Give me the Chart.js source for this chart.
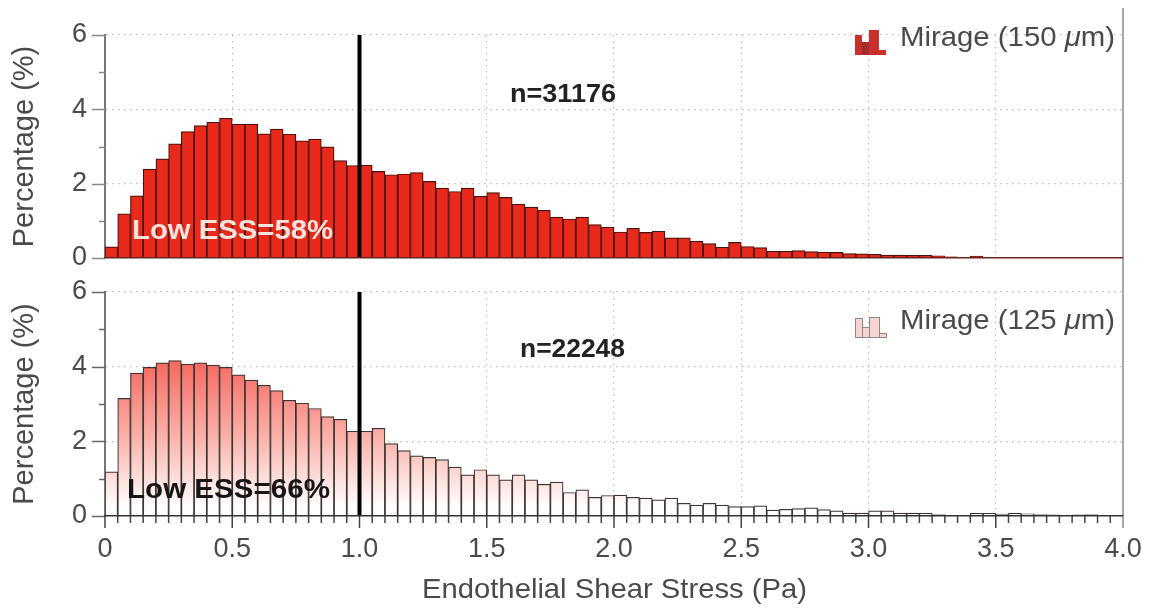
<!DOCTYPE html>
<html><head><meta charset="utf-8">
<script src="https://cdn.jsdelivr.net/npm/chart.js@4"></script>
<style>
html,body{margin:0;padding:0;background:#fff;width:1153px;height:610px;overflow:hidden}
canvas{position:absolute;left:0;top:0;filter:blur(.6px)}
</style></head><body>
<div style="position:absolute;left:0;top:0;width:1153px;height:275px"><canvas id="top"></canvas></div>
<div style="position:absolute;left:0;top:275px;width:1153px;height:335px"><canvas id="bot"></canvas></div>
<script>
const binWidth = 0.05;
const mirage150 = [
 .3,1.19,1.67,2.39,2.67,3.07,3.4,3.56,3.65,3.76,
 3.6,3.6,3.34,3.47,3.33,3.15,3.2,2.99,2.62,2.49,
 2.5,2.33,2.24,2.26,2.3,2.06,1.88,1.79,1.88,1.66,
 1.76,1.63,1.45,1.37,1.28,1.1,1.05,1.1,.9,.83,
 .7,.8,.69,.72,.54,.54,.45,.39,.29,.42,
 .31,.28,.18,.18,.2,.17,.16,.15,.12,.11,
 .1,.08,.08,.07,.07,.06,.03,.02,.05,.02,
 .01,.01,.01,.01,.01,.01,.01,0,.01,0];
const mirage125 = [
 1.18,3.15,3.83,3.98,4.1,4.16,4.07,4.1,4.04,3.98,
 3.78,3.64,3.5,3.36,3.1,3.02,2.88,2.66,2.59,2.27,
 2.27,2.35,1.94,1.75,1.61,1.57,1.51,1.31,1.1,1.24,
 1.1,.97,1.1,.97,.85,.91,.63,.7,.5,.55,
 .56,.5,.48,.43,.48,.34,.29,.34,.29,.25,
 .25,.27,.16,.18,.2,.22,.17,.14,.08,.08,
 .14,.14,.08,.08,.07,.04,.02,.02,.07,.07,
 .05,.08,.06,.04,.03,.02,.03,.04,.02,.01];
const yTickLabels = ['0','2','4','6'];
const xTickLabels = ['0','0.5','1.0','1.5','2.0','2.5','3.0','3.5','4.0'];
const thresholdX = [1, 1];
const thresholdY = [0, 6];
const xTitle = 'Endothelial Shear Stress (Pa)';
const yTitle = 'Percentage (%)';

const FONT = '"Liberation Sans", Arial, sans-serif';
const INK = '#4a4a4a';
const L = 105, R = 30;

function toPoints(v){ return v.map((y,i)=>({x:(i+0.5)*binWidth, y})); }

function pinkGradient(ctx){
  const c = ctx.chart;
  if(!c.chartArea) return '#f88';
  const y = c.scales.y;
  const g = c.ctx.createLinearGradient(0,y.getPixelForValue(4.3),0,y.getPixelForValue(0));
  g.addColorStop(0,'#f5635a'); g.addColorStop(.5,'#fbb0a8'); g.addColorStop(.95,'#ffffff');
  return g;
}

// text is fitted to the width measured in the reference
function fitText(x,parts,left,cy,size,width){
  x.save();
  x.textBaseline='middle'; x.textAlign='left';
  let total=0;
  parts.forEach(p=>{x.font=(p.style||'')+' '+size+'px '+FONT; total+=x.measureText(p.t).width;});
  const k=width/total;
  x.translate(left,cy); x.scale(k,1);
  let at=0;
  parts.forEach(p=>{x.font=(p.style||'')+' '+size+'px '+FONT; x.fillText(p.t,at,0); at+=x.measureText(p.t).width;});
  x.restore();
}

function deco(o){
  return {id:'deco', afterDatasetsDraw(c){
    const x=c.ctx, X=c.scales.x, Y=c.scales.y, ca=c.chartArea;
    x.save();
    x.strokeStyle=o.tickColor; x.lineWidth=1.5;
    Y.ticks.forEach(t=>{const p=Math.round(Y.getPixelForValue(t.value))+.5, len=t.value%2===0?13:6;
      x.beginPath();x.moveTo(ca.left-len,p);x.lineTo(ca.left,p);x.stroke();});
    if(o.xTicks){ x.strokeStyle='#444'; x.lineWidth=1.5;
      X.ticks.forEach((t,i)=>{const p=X.getPixelForValue(t.value), len=i%10===0?12:7;
        x.beginPath();x.moveTo(p,ca.bottom);x.lineTo(p,ca.bottom+len);x.stroke();});
      x.fillStyle=INK;
      fitText(x,[{t:xTitle}],422,o.xTitleY,28,385);
    }
    x.strokeStyle='#a8a8a8'; x.lineWidth=2;
    x.beginPath();x.moveTo(ca.right,o.frame[0]);x.lineTo(ca.right,o.frame[1]);x.stroke();
    o.icon(x);
    x.fillStyle=INK;
    fitText(x,[{t:o.legend+' '},{t:'\u03bc',style:'italic'},{t:'m)'}],900,o.legendY,28,215);
    x.fillStyle='#222';
    fitText(x,[{t:o.n[0]}],o.n[1],o.n[2],'bold 25',o.n[3]);
    x.fillStyle=o.lowColor;
    fitText(x,[{t:o.low[0]}],o.low[1],o.low[2],'bold 28',o.low[3]);
    x.restore();
  }};
}

function noPad(s){s.paddingTop=0;s.paddingBottom=0;s.paddingLeft=0;s.paddingRight=0;}

function build(id,values,fill,edge,opt){
  return new Chart(document.getElementById(id),{
    type:'bar',
    data:{datasets:[
      {type:'line',data:thresholdX.map((v,i)=>({x:v,y:thresholdY[i]})),borderColor:'#000',borderWidth:4,pointRadius:0,order:0},
      {type:'bar',data:toPoints(values),backgroundColor:fill,borderColor:edge,borderWidth:1.2,barPercentage:1,categoryPercentage:1,grouped:false,order:1}
    ]},
    options:{
      responsive:false,animation:false,
      layout:{padding:{left:0,right:R,top:opt.padTop,bottom:0}},
      plugins:{legend:{display:false},tooltip:{enabled:false}},
      scales:{
        x:{type:'linear',min:0,max:4,offset:false,
          afterFit(s){s.height=opt.xH;noPad(s);},
          grid:{offset:false,drawTicks:false,color:c=>(c.index%10===0&&c.index>0&&c.index<80)?'#bcbcbc':'transparent',lineWidth:1.2},
          border:{display:true,color:opt.baseColor,width:1.6,dash:[1.5,4.5],z:2},
          ticks:{display:opt.xTicks,stepSize:binWidth,autoSkip:false,maxRotation:0,minRotation:0,padding:17,color:INK,
            font:{family:FONT,size:27},
            callback:(v,i)=> i%10===0 ? xTickLabels[i/10] : ''},
          title:{display:false}
        },
        y:{min:0,max:6,
          afterFit(s){s.width=L;noPad(s);},
          grid:{drawTicks:false,color:c=>(c.tick.value%2===0&&c.tick.value>0)?'#bcbcbc':'transparent',lineWidth:1.2},
          border:{display:true,color:'#777',width:2,dash:[1.5,4.5]},
          ticks:{stepSize:1,autoSkip:false,padding:18,color:INK,font:{family:FONT,size:27},
            callback:v=> v%2===0 ? yTickLabels[v/2] : ''},
          title:{display:true,text:yTitle,color:INK,font:{family:FONT,size:29},padding:{top:8,bottom:0}}
        }
      }
    },
    plugins:[deco(opt)]
  });
}

function setSize(id,h){const c=document.getElementById(id);c.width=1153;c.height=h;}
setSize('top',275); setSize('bot',335);

const iconHeights150=[20,13,25,5], iconHeights125=[19,10,20,4];
build('top',mirage150,'#e8291c','#4a120c',{
  padTop:35,xH:17,xTicks:false,baseColor:'#6a241c',tickColor:'#888',frame:[8,275],
  legend:'Mirage (150',legendY:38,n:['n=31176',510,95,106],low:['Low ESS=58%',132,231,201],lowColor:'#f4e4dc',
  icon(x){let p=855;const w=[7,7,10,7];iconHeights150.forEach((h,i)=>{x.fillStyle=i===1?'#a52a2a':'#c8302c';x.fillRect(p,55-h,w[i],h);p+=w[i];});}
});
build('bot',mirage125,pinkGradient,'#3d3533',{
  padTop:17,xH:94,xTicks:true,baseColor:'#333',tickColor:'#666',frame:[0,253],xTitleY:315,
  legend:'Mirage (125',legendY:46,n:['n=22248',520,75,105],low:['Low ESS=66%',127,215,203],lowColor:'#161616',
  icon(x){let p=855;const w=[7,7,10,7];iconHeights125.forEach((h,i)=>{const t=62-h;x.fillStyle='#f9d5d1';x.fillRect(p,t,w[i],h);x.strokeStyle='#888';x.lineWidth=1;x.strokeRect(p+.5,t+.5,w[i],h);p+=w[i];});}
});
</script>
</body></html>
